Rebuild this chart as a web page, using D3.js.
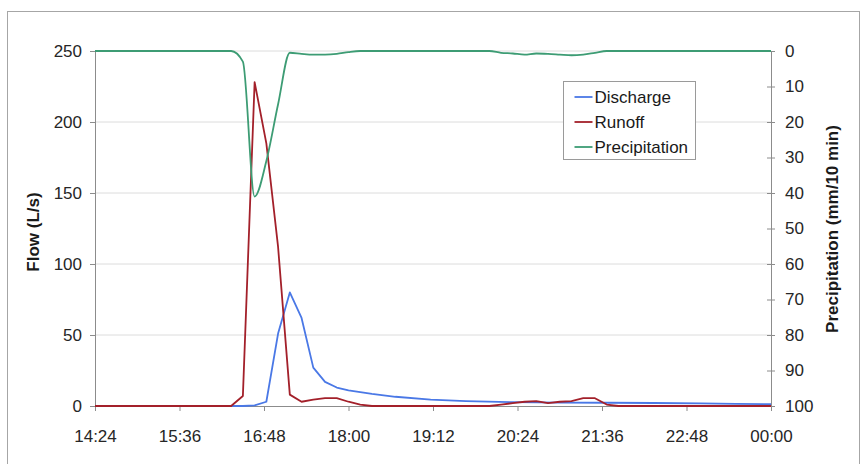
<!DOCTYPE html>
<html>
<head>
<meta charset="utf-8">
<script src="https://cdn.jsdelivr.net/npm/d3@7"></script>
<style>
  body { margin: 0; background: #fff; }
  text { font-family: "Liberation Sans", Arial, sans-serif; }
</style>
</head>
<body>
<svg id="chart" width="864" height="464"></svg>
<script>
// tick labels
const timeTicks = ["14:24", "15:36", "16:48", "18:00", "19:12", "20:24", "21:36", "22:48", "00:00"];
const flowTicks = [0, 50, 100, 150, 200, 250];
const precipTicks = [0, 10, 20, 30, 40, 50, 60, 70, 80, 90, 100];

// Discharge (L/s)
const dischargeTime = ["14:24", "16:30", "16:40", "16:50", "17:00", "17:10", "17:20", "17:30", "17:40", "17:50",
  "18:00", "18:20", "18:40", "19:10", "19:40", "20:20", "21:00", "21:40", "22:20", "23:00", "23:30", "00:00"];
const dischargeValue = [0, 0, 0.5, 3, 51, 80, 62, 27, 17, 13,
  11, 8.5, 6.5, 4.5, 3.5, 2.7, 2.4, 2.3, 2.1, 1.8, 1.5, 1.3];

// Runoff (L/s)
const runoffTime = ["14:24", "16:20", "16:30", "16:40", "16:50", "17:00", "17:10", "17:20", "17:30", "17:40",
  "17:50", "18:00", "18:10", "18:20", "20:00", "20:10", "20:20", "20:30", "20:40", "20:50", "21:00", "21:10",
  "21:20", "21:30", "21:40", "21:50", "00:00"];
const runoffValue = [0, 0, 7, 228, 185, 112, 8, 3, 4.5, 5.5,
  5.5, 3, 1, 0, 0, 1, 2, 3, 3.5, 2, 3, 3.5,
  5.5, 5.5, 1, 0, 0];

// Precipitation (mm/10 min)
const precipTime = ["14:24", "16:20", "16:30", "16:40", "16:50", "17:00", "17:10", "17:20", "17:30", "17:40",
  "17:50", "18:00", "18:10", "20:00", "20:10", "20:20", "20:30", "20:40", "20:50", "21:00", "21:10", "21:20",
  "21:30", "21:40", "00:00"];
const precipValue = [0, 0, 3, 41, 31, 15, 0.5, 0.8, 1, 1,
  0.8, 0.3, 0, 0, 0.5, 0.7, 1, 0.7, 0.8, 1, 1.2, 1,
  0.5, 0, 0];

const parseTime = (s) => {
  const [h, m] = s.split(":").map(Number);
  return new Date(2000, 0, h < 12 ? 2 : 1, h, m);
};

const margin = { top: 51, right: 93, bottom: 58, left: 95 };
const width = 864 - margin.left - margin.right;
const height = 464 - margin.top - margin.bottom;

const svg = d3.select("#chart");

// outer chart frame
svg.append("rect")
  .attr("x", 7.5).attr("y", 11.5)
  .attr("width", 852).attr("height", 480)
  .attr("fill", "none")
  .attr("stroke", "#a6a6a6");

const g = svg.append("g").attr("transform", `translate(${margin.left}, ${margin.top})`);

const x = d3.scaleTime()
  .domain([parseTime("14:24"), parseTime("00:00")])
  .range([0, width]);
const yFlow = d3.scaleLinear().domain([0, 250]).range([height, 0]);
const yPrecip = d3.scaleLinear().domain([0, 100]).range([0, height]);

// gridlines
g.selectAll(".grid")
  .data(flowTicks.filter((d) => d > 0))
  .enter()
  .append("line")
  .attr("class", "grid")
  .attr("x1", 0).attr("x2", width)
  .attr("y1", (d) => yFlow(d)).attr("y2", (d) => yFlow(d))
  .attr("stroke", "#dcdcdc");

// axes
const styleAxis = (sel) => {
  sel.select(".domain").attr("stroke", "#8c8c8c");
  sel.selectAll(".tick line").attr("stroke", "#8c8c8c");
  sel.selectAll(".tick text").attr("fill", "#262626").style("font-size", "17px")
    .style("font-family", '"Liberation Sans", Arial, sans-serif');
};

g.append("g")
  .call(d3.axisLeft(yFlow).tickValues(flowTicks).tickSize(5).tickSizeOuter(0).tickPadding(8))
  .call(styleAxis);

const rightAxis = g.append("g")
  .attr("transform", `translate(${width}, 0)`)
  .call(d3.axisRight(yPrecip).tickValues(precipTicks).tickSize(4).tickSizeOuter(0).tickPadding(10))
  .call(styleAxis);
rightAxis.selectAll(".tick line").attr("x1", -4).attr("x2", 4);

g.append("g")
  .attr("transform", `translate(0, ${height})`)
  .call(d3.axisBottom(x)
    .tickValues(timeTicks.map(parseTime))
    .tickFormat((d, i) => timeTicks[i])
    .tickSize(5).tickSizeOuter(0).tickPadding(19))
  .call(styleAxis);

// axis titles
svg.append("text")
  .attr("transform", "translate(39, 232) rotate(-90)")
  .attr("text-anchor", "middle")
  .style("font-size", "17px").style("font-weight", "bold")
  .attr("fill", "#1a1a1a")
  .text("Flow (L/s)");

svg.append("text")
  .attr("transform", "translate(838, 229) rotate(-90)")
  .attr("text-anchor", "middle")
  .style("font-size", "17px").style("font-weight", "bold")
  .attr("fill", "#1a1a1a")
  .text("Precipitation (mm/10 min)");

// series
const series = [
  { name: "Discharge", color: "#4a78e6", times: dischargeTime, values: dischargeValue, y: yFlow, curve: d3.curveLinear },
  { name: "Runoff", color: "#a3202a", times: runoffTime, values: runoffValue, y: yFlow, curve: d3.curveLinear },
  { name: "Precipitation", color: "#3d9c74", times: precipTime, values: precipValue, y: yPrecip, curve: d3.curveMonotoneX },
];

series.forEach((s) => {
  const pts = s.times.map((t, i) => ({ t: parseTime(t), v: s.values[i] }));
  const line = d3.line().x((d) => x(d.t)).y((d) => s.y(d.v)).curve(s.curve);
  g.append("path")
    .datum(pts)
    .attr("fill", "none")
    .attr("stroke", s.color)
    .attr("stroke-width", 1.8)
    .attr("stroke-linejoin", "round")
    .attr("d", line);
});

// legend
const legend = svg.append("g").attr("transform", "translate(563.5, 81.5)");
legend.append("rect")
  .attr("width", 132).attr("height", 78)
  .attr("fill", "#fff").attr("stroke", "#9a9a9a");
series.forEach((s, i) => {
  const yy = 15.5 + i * 25;
  legend.append("line")
    .attr("x1", 11).attr("x2", 29)
    .attr("y1", yy).attr("y2", yy)
    .attr("stroke", s.color).attr("stroke-width", 1.8);
  legend.append("text")
    .attr("x", 31).attr("y", yy + 6)
    .style("font-size", "17px")
    .attr("fill", "#1a1a1a")
    .text(s.name);
});
</script>
</body>
</html>
